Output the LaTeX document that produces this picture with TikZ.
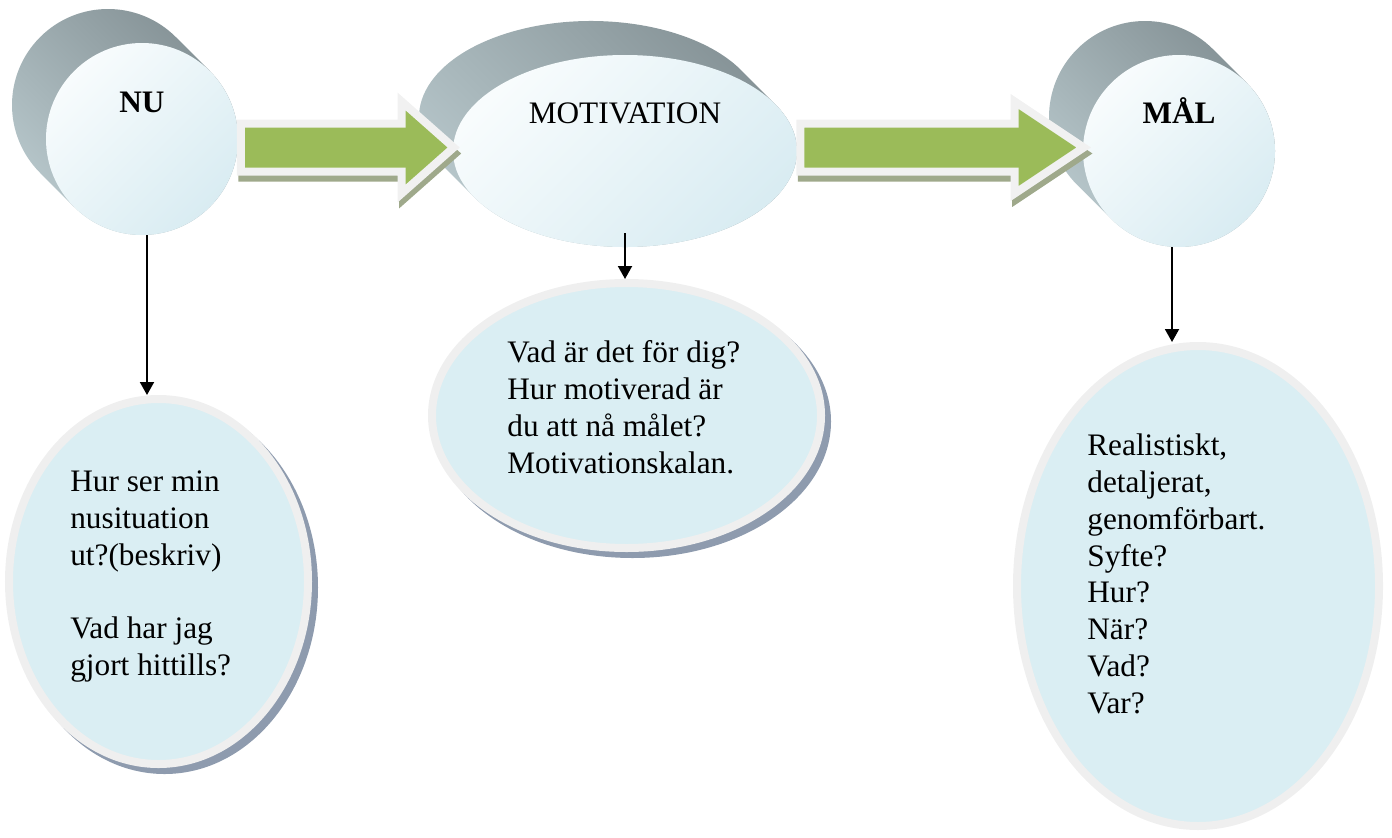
\documentclass[tikz,border=0pt]{standalone}
\usepackage{fontspec}
\setmainfont{Liberation Serif}
\usetikzlibrary{shapes.geometric,arrows.meta,calc,shadows,backgrounds}

\definecolor{sidedark}{HTML}{828F93}
\definecolor{sidelight}{HTML}{BACACE}
\definecolor{facelight}{HTML}{F8FCFD}
\definecolor{faceblue}{HTML}{D9ECF2}
\definecolor{bubblefill}{HTML}{DAEEF3}
\definecolor{bubbleline}{HTML}{EFEFEF}
\definecolor{bubbleshadow}{HTML}{8E9BAE}
\definecolor{arrowgreen}{HTML}{9BBB59}
\definecolor{arrowline}{HTML}{F1F1F1}
\definecolor{arrowshadow}{HTML}{9FA98B}

\tikzset{
  face/.style={shade, top color=facelight, bottom color=faceblue, shading angle=45, inner sep=0pt},
  extrude/.style={top color=sidedark, bottom color=sidelight, shading angle=-45},
  bubble/.style={ellipse, fill=bubblefill, draw=bubbleline, line width=0.16cm, inner sep=0pt},
  bubbleshade/.style={drop shadow={shadow xshift=0.12cm, shadow yshift=-0.12cm, fill=bubbleshadow, draw=bubbleshadow, line width=0.16cm, opacity=1}},
  heading/.style={font=\fontsize{17.8}{21}\selectfont, anchor=base, inner sep=0pt},
  question/.style={font=\fontsize{17.8}{20.9}\selectfont, align=left, anchor=base west, inner sep=0pt},
  link/.style={line width=0.04cm, -{Triangle[width=0.28cm,length=0.26cm]}},
  arrowbody/.style={fill=arrowgreen, draw=arrowline, line width=0.16cm},
}

% side of a 3D disc: centre node, x radius, y radius, tangent angle
\newcommand\extrude[4]{%
  \shade[extrude] ($(#1.center)+({#2*cos(#4)},{#3*sin(#4)})$) -- ++(-0.68,0.68)
    arc[start angle=#4, end angle=#4+180, x radius=#2, y radius=#3] -- ++(0.68,-0.68)
    arc[start angle=#4+180, end angle=#4+360, x radius=#2, y radius=#3] -- cycle;
}

% big green arrow: start, tip, head length
\newcommand\fatarrow[3]{%
  \begin{scope}[transform canvas={xshift=0.03cm,yshift=-0.12cm}]
    \filldraw[fill=arrowshadow, draw=arrowshadow, line width=0.16cm] (#1) ++(0,0.48) -- ($(#2)+(-#3,0.48)$) -- ($(#2)+(-#3,0.92)$) -- (#2)
      -- ($(#2)+(-#3,-0.92)$) -- ($(#2)+(-#3,-0.48)$) -- ($(#1)+(0,-0.48)$) -- cycle;
  \end{scope}
  \filldraw[arrowbody] (#1) ++(0,0.48) -- ($(#2)+(-#3,0.48)$) -- ($(#2)+(-#3,0.92)$) -- (#2)
    -- ($(#2)+(-#3,-0.92)$) -- ($(#2)+(-#3,-0.48)$) -- ($(#1)+(0,-0.48)$) -- cycle;
}

\begin{document}
\begin{tikzpicture}
\useasboundingbox (0,0) rectangle (27.84,-16.74);

% bottom bubbles
\node[bubble, bubbleshade, minimum width=5.98cm, minimum height=7.30cm] (nud) at (3.17,-11.63) {};
\node[bubble, bubbleshade, minimum width=7.78cm, minimum height=5.30cm] (motd) at (12.53,-8.31) {};
\node[bubble, minimum width=7.24cm, minimum height=9.60cm] (mald) at (23.96,-11.72) {};

% questions (anchored at the baseline of the last line)
\node[question] (nuq) at (1.40,-13.50) {Hur ser min\\nusituation\\ut?(beskriv)\\[20.7pt]Vad har jag\\gjort hittills?};
\node[question] (motq) at (10.14,-9.46) {Vad är det för dig?\\Hur motiverad är\\du att nå målet?\\Motivationskalan.};
\node[question] (malq) at (21.74,-14.26) {Realistiskt,\\detaljerat,\\genomförbart.\\Syfte?\\Hur?\\När?\\Vad?\\Var?};

% top discs
\node[face, circle, minimum size=3.84cm] (nu) at (2.84,-2.78) {};
\node[face, ellipse, minimum width=6.88cm, minimum height=3.84cm] (mot) at (12.50,-3.02) {};
\node[face, circle, minimum size=3.84cm] (mal) at (23.58,-3.02) {};

\begin{scope}[on background layer]
  \extrude{nu}{1.92}{1.92}{45}
  \extrude{mot}{3.44}{1.92}{29.17}
  \extrude{mal}{1.92}{1.92}{45}
\end{scope}

\node[heading, font=\fontsize{17.8}{21}\selectfont\bfseries] (nut) at ([yshift=0.54cm]nu.center) {NU};
\node[heading] (mott) at ([yshift=0.56cm]mot.center) {MOTIVATION};
\node[heading, font=\fontsize{17.8}{21}\selectfont\bfseries] (malt) at ([yshift=0.56cm]mal.center) {MÅL};

% links down
\draw[link] ([xshift=0.1cm]nu.south) -- ([xshift=0.1cm]nu.south |- nud.north);
\draw[link] ([yshift=0.28cm]mot.south) -- (mot.south |- motd.north);
\draw[link] ([xshift=-0.14cm]mal.south) -- ([xshift=-0.14cm]mal.south |- mald.north);

% arrows between discs
\path (nu.east) ++(0.05,-0.17) coordinate (a1s);
\path (mot.west) ++(0.02,0.07) coordinate (a1t);
\path (mot.east) ++(0.06,0.07) coordinate (a2s);
\path (mal.west) ++(0.02,0.07) coordinate (a2t);
\fatarrow{a1s}{a1t}{1.04}
\fatarrow{a2s}{a2t}{1.38}
\end{tikzpicture}
\end{document}
